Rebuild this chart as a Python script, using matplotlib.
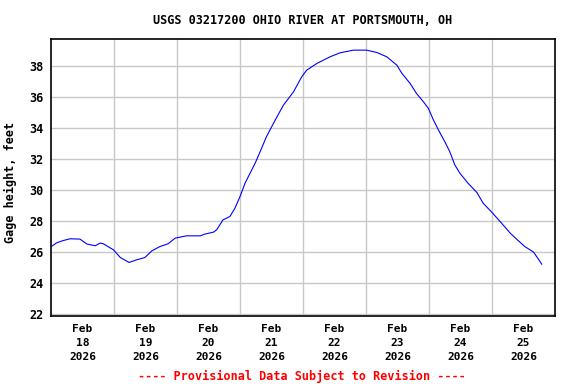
import matplotlib
matplotlib.use("Agg")
import matplotlib.pyplot as plt
import numpy as np

# days since Feb 18 2026 00:00, gage height in feet
days = [0.01, 0.09, 0.19, 0.30, 0.46, 0.57, 0.70, 0.78, 0.83, 0.99,
        1.10, 1.24, 1.36, 1.49, 1.60, 1.73, 1.86, 1.97, 2.15, 2.37,
        2.44, 2.58, 2.63, 2.68, 2.73, 2.84, 2.92, 3.00, 3.08, 3.16,
        3.24, 3.32, 3.42, 3.56, 3.69, 3.85, 3.98, 4.06, 4.22, 4.43,
        4.59, 4.80, 5.01, 5.17, 5.33, 5.49, 5.57, 5.70, 5.80, 5.91,
        5.99, 6.07, 6.15, 6.25, 6.33, 6.41, 6.49, 6.62, 6.76, 6.86,
        7.00, 7.13, 7.29, 7.39, 7.52, 7.66, 7.79]
gage_ft = [26.35, 26.58, 26.72, 26.84, 26.82, 26.50, 26.39, 26.56, 26.52, 26.13,
           25.63, 25.31, 25.48, 25.63, 26.06, 26.34, 26.52, 26.88, 27.03, 27.03,
           27.14, 27.27, 27.42, 27.74, 28.06, 28.28, 28.82, 29.57, 30.43, 31.08,
           31.72, 32.47, 33.44, 34.52, 35.48, 36.34, 37.31, 37.74, 38.17, 38.60,
           38.86, 39.03, 39.03, 38.88, 38.60, 38.06, 37.53, 36.88, 36.24, 35.70,
           35.27, 34.52, 33.87, 33.12, 32.47, 31.61, 31.08, 30.43, 29.83, 29.14,
           28.54, 27.95, 27.20, 26.82, 26.34, 25.98, 25.20]

day_labels = ["18", "19", "20", "21", "22", "23", "24", "25"]
y_ticks = [22, 24, 26, 28, 30, 32, 34, 36, 38]

mono = "DejaVu Sans Mono"

fig = plt.figure(figsize=(5.76, 3.84), dpi=100)
ax = fig.add_axes([51 / 576, 1 - 316 / 384, 504 / 576, 277 / 384])

ax.plot(days, gage_ft, color="#0000ff", lw=0.8)

ax.set_xlim(0, 8)
ax.set_ylim(21.85, 39.75)

# midnight gridlines, noon labels
ax.set_xticks(np.arange(1, 8), minor=True)
ax.set_xticks(np.arange(len(day_labels)) + 0.5)
ax.set_xticklabels([f"Feb\n{d}\n2026" for d in day_labels],
                   fontfamily=mono, fontweight="bold", fontsize=8,
                   linespacing=1.45)
ax.set_yticks(y_ticks)
ax.set_yticklabels([str(v) for v in y_ticks], fontfamily=mono,
                   fontweight="bold", fontsize=8.5)
ax.tick_params(axis="both", which="both", length=0)
ax.tick_params(axis="x", pad=6)
ax.tick_params(axis="y", pad=5.5)

ax.grid(True, which="minor", axis="x", color="#c8c8c8", lw=1)
ax.grid(True, which="major", axis="y", color="#c8c8c8", lw=1)
ax.set_axisbelow(True)
for sp in ax.spines.values():
    sp.set_linewidth(1.2)
    sp.set_color("black")

ax.set_ylabel("Gage height, feet", fontfamily=mono, fontweight="bold",
              fontsize=8.5)
ax.yaxis.set_label_coords(-0.067, 0.481)
ax.set_title("USGS 03217200 OHIO RIVER AT PORTSMOUTH, OH", fontfamily=mono,
             fontweight="bold", fontsize=8.5, pad=10.5)

fig.text(302 / 576, 1 - 376 / 384, "---- Provisional Data Subject to Revision ----",
         color="red", fontfamily=mono, fontweight="bold", fontsize=8.5,
         ha="center", va="center")

fig.savefig("out.png", dpi=100)
